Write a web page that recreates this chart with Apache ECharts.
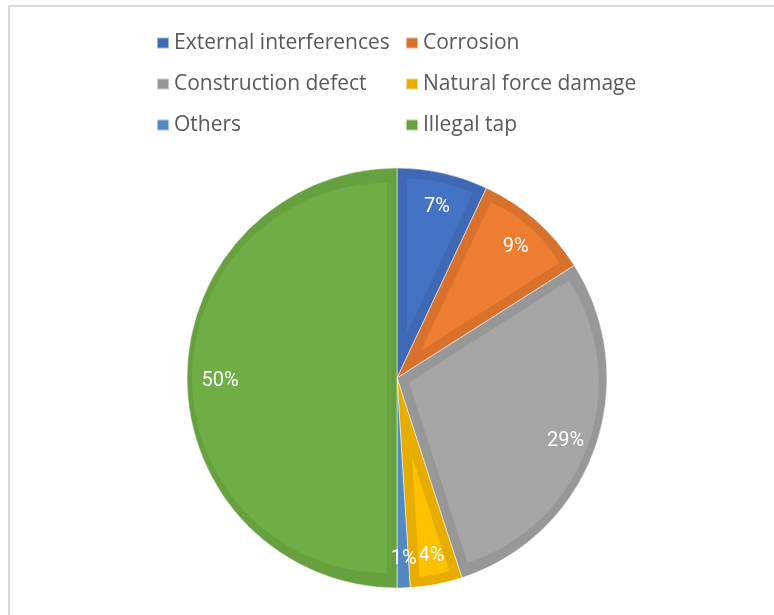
<!DOCTYPE html>
<html>
<head>
<meta charset="utf-8">
<script src="https://cdn.jsdelivr.net/npm/echarts@6/dist/echarts.min.js"></script>
<style>
  html, body { margin: 0; padding: 0; background: #fff; }
  #chart { width: 774px; height: 615px; }
</style>
</head>
<body>
<div id="chart"></div>
<script>
// causes of pipeline failures, share in %
const categories = [
  "External interferences",
  "Corrosion",
  "Construction defect",
  "Natural force damage",
  "Others",
  "Illegal tap",
];
const shares = [7, 9, 29, 4, 1, 50];

const fillColors = ["#4472C4", "#ED7D31", "#A5A5A5", "#FFC000", "#5B9BD5", "#70AD47"];
const edgeColors = ["#3F69B4", "#D7712C", "#979797", "#E6AD00", "#5289C1", "#66A03F"];

const center = ["397px", "378px"];
const outerR = 210;
const edgeW = 10;
const legendFont = "'Open Sans', Roboto, sans-serif";
const labelFont = "Roboto, 'Open Sans', sans-serif";

const chart = echarts.init(document.getElementById("chart"), null, { renderer: "canvas" });

const total = shares.reduce((a, b) => a + b, 0);

// lighter fill of one slice, pushed out along its bisector so that it
// sits inside the slice with an even dark edge all round (Excel look)
function innerFill(i) {
  const half = (Math.PI * shares[i]) / total;
  const offset = edgeW / Math.sin(half);
  const inner = outerR - edgeW;
  const r = inner - (offset * (1 + Math.cos(half))) / 2;
  if (r <= 0) return null;
  return {
    type: "pie",
    z: 2,
    center,
    radius: [0, r],
    startAngle: 90,
    clockwise: true,
    silent: true,
    selectedMode: "multiple",
    selectedOffset: offset,
    label: { show: false },
    labelLine: { show: false },
    itemStyle: { borderWidth: 0 },
    data: categories.map((name, j) => ({
      name,
      value: shares[j],
      selected: j === i,
      itemStyle: { color: j === i ? fillColors[j] : "transparent" },
    })),
  };
}

const legendItems = (idx) =>
  idx.map((i) => ({ name: categories[i], itemStyle: { color: edgeColors[i] } }));

const legendBase = {
  orient: "vertical",
  top: 31,
  padding: 0,
  icon: "rect",
  itemWidth: 12,
  itemHeight: 11,
  itemGap: 17,
  selectedMode: false,
  textStyle: { color: "#595959", fontSize: 21, lineHeight: 24, fontFamily: legendFont },
};

chart.setOption({
  backgroundColor: "#fff",
  animation: false,
  graphic: [
    {
      type: "rect",
      shape: { x: 9, y: 6, width: 820, height: 700 },
      style: { fill: "none", stroke: "#D9D9D9", lineWidth: 2 },
      silent: true,
      z: -10,
    },
  ],
  legend: [
    { ...legendBase, left: 156, data: legendItems([0, 2, 4]) },
    { ...legendBase, left: 405, data: legendItems([1, 3, 5]) },
  ],
  series: [
    {
      // dark outline layer
      type: "pie",
      z: 1,
      center,
      radius: [0, outerR],
      startAngle: 90,
      clockwise: true,
      silent: true,
      label: { show: false },
      labelLine: { show: false },
      itemStyle: { borderColor: "rgba(255,255,255,0.5)", borderWidth: 1 },
      data: categories.map((name, i) => ({
        name,
        value: shares[i],
        itemStyle: { color: edgeColors[i] },
      })),
    },
    ...categories.map((_, i) => innerFill(i)).filter(Boolean),
    {
      // labels only
      type: "pie",
      z: 5,
      center,
      radius: [140, outerR],
      startAngle: 90,
      clockwise: true,
      silent: true,
      itemStyle: { color: "transparent", borderWidth: 0 },
      label: {
        show: true,
        position: "inside",
        formatter: "{c}%",
        color: "#fff",
        fontSize: 20,
        fontFamily: labelFont,
        offset: [1, 3],
      },
      labelLine: { show: false },
      data: categories.map((name, i) => ({ name, value: shares[i] })),
    },
  ],
});
</script>
</body>
</html>
